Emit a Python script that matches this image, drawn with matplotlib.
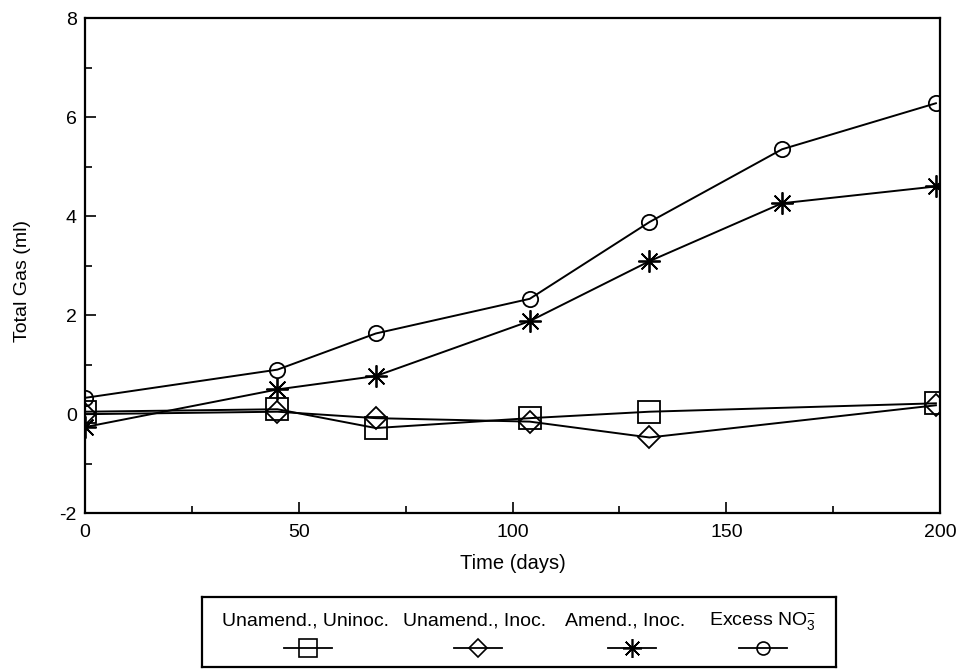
import matplotlib
matplotlib.use("Agg")
import matplotlib.pyplot as plt
from matplotlib.lines import Line2D
from matplotlib.ticker import MultipleLocator

plt.rcParams['font.family'] = ['Liberation Sans', 'DejaVu Sans']
plt.rcParams['mathtext.default'] = 'regular'
plt.rcParams['axes.unicode_minus'] = False

# data
daysShort = [0, 45, 68, 104, 132, 199]
daysLong = [0, 45, 68, 104, 132, 163, 199]
unamendUninoc = [0.05, 0.1, -0.28, -0.08, 0.05, 0.22]
unamendInoc = [0.0, 0.05, -0.08, -0.15, -0.47, 0.18]
amendInoc = [-0.26, 0.5, 0.77, 1.88, 3.09, 4.26, 4.6]
excessNO3 = [0.33, 0.9, 1.63, 2.33, 3.88, 5.35, 6.28]

seriesLabels = ['Unamend., Uninoc.', 'Unamend., Inoc.', 'Amend., Inoc.', r'Excess NO$_3^{-}$']
seriesMarkers = ['s', 'D', (8, 2, 0), 'o']
markerSizes = [16, 11, 16, 11]

fig = plt.figure(figsize=(9.63, 6.70), dpi=100)
ax = fig.add_axes([0.0883, 0.234, 0.888, 0.739])

seriesX = [daysShort, daysShort, daysLong, daysLong]
seriesY = [unamendUninoc, unamendInoc, amendInoc, excessNO3]
for i in range(len(seriesY)):
    ax.plot(seriesX[i], seriesY[i], color='black', linewidth=1.4,
            marker=seriesMarkers[i], markersize=markerSizes[i],
            markerfacecolor='none', markeredgecolor='black', markeredgewidth=1.3)

ax.set_xlim(0, 200)
ax.set_ylim(-2, 8)
ax.xaxis.set_major_locator(MultipleLocator(50))
ax.xaxis.set_minor_locator(MultipleLocator(25))
ax.yaxis.set_major_locator(MultipleLocator(2))
ax.yaxis.set_minor_locator(MultipleLocator(1))
ax.tick_params(which='both', direction='in', labelsize=14, width=1.2)
ax.tick_params(which='major', length=8)
ax.tick_params(which='minor', length=5)
ax.tick_params(axis='x', pad=8)
ax.tick_params(axis='y', pad=6)
for spine in ax.spines.values():
    spine.set_linewidth(1.6)

ax.set_xlabel('Time (days)', fontsize=14.5, labelpad=9)
ax.set_ylabel('Total Gas (ml)', fontsize=14)
ax.yaxis.set_label_coords(-0.063, 0.47)

# legend drawn by hand: label on top, marker underneath
legAx = fig.add_axes([202 / 963, (670 - 667) / 670, 634 / 963, 70 / 670])
legAx.set_xlim(0, 634)
legAx.set_ylim(70, 0)
legAx.set_xticks([])
legAx.set_yticks([])
for spine in legAx.spines.values():
    spine.set_linewidth(1.6)

textCenters = [104, 273, 423, 560]
markerCenters = [106, 276, 430, 561]
for i in range(len(seriesLabels)):
    legAx.text(textCenters[i], 24, seriesLabels[i], ha='center', va='center', fontsize=14)
    legAx.add_line(Line2D([markerCenters[i] - 24, markerCenters[i] + 24], [51, 51],
                          color='black', linewidth=1.3))
    legAx.add_line(Line2D([markerCenters[i]], [51], marker=seriesMarkers[i],
                          markersize=markerSizes[i] * 0.85, markerfacecolor='none',
                          markeredgecolor='black', markeredgewidth=1.2, linestyle='none'))

fig.savefig('out.png', dpi=100)
